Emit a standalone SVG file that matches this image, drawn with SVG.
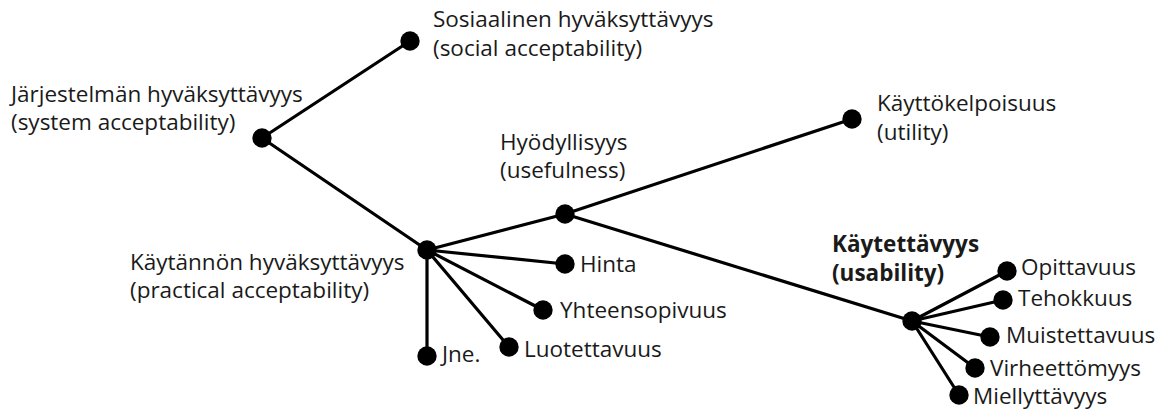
<svg xmlns="http://www.w3.org/2000/svg" width="1172" height="411" viewBox="0 0 1172 411">
<style>
text{font-family:"Open Sans","Noto Sans","Liberation Sans",sans-serif;font-size:22.5px;fill:#1a1a1a}
.b{font-weight:bold}
.e line{stroke:#000;stroke-width:3.2;stroke-linecap:round}
circle{fill:#000}
</style>
<rect width="1172" height="411" fill="#fff"/>
<g class="e" id="connectors">
<line x1="262" y1="138" x2="410" y2="41"/>
<line x1="262" y1="138" x2="427" y2="250"/>
<line x1="427" y1="250" x2="565" y2="214"/>
<line x1="565" y1="214" x2="852" y2="119"/>
<line x1="565" y1="214" x2="912" y2="321"/>
<line x1="427" y1="250" x2="565" y2="264"/>
<line x1="427" y1="250" x2="543" y2="310"/>
<line x1="427" y1="250" x2="509" y2="347"/>
<line x1="427" y1="250" x2="427" y2="356"/>
<line x1="912" y1="321" x2="1007" y2="271"/>
<line x1="912" y1="321" x2="1003" y2="300"/>
<line x1="912" y1="321" x2="990" y2="337"/>
<line x1="912" y1="321" x2="975" y2="368"/>
<line x1="912" y1="321" x2="959" y2="395"/>
</g>
<g id="social"><circle cx="410" cy="41" r="9.7"/><text x="433" y="27">Sosiaalinen hyväksyttävyys</text><text x="433" y="56">(social acceptability)</text></g>
<g id="system"><circle cx="262" cy="138" r="9.7"/><text x="11" y="102">Järjestelmän hyväksyttävyys</text><text x="11" y="130">(system acceptability)</text></g>
<g id="practical"><circle cx="427" cy="250" r="9.7"/><text x="130" y="270">Käytännön hyväksyttävyys</text><text x="130" y="298">(practical acceptability)</text></g>
<g id="usefulness"><circle cx="565" cy="214" r="9.7"/><text x="500" y="150">Hyödyllisyys</text><text x="500" y="178">(usefulness)</text></g>
<g id="utility"><circle cx="852" cy="119" r="9.7"/><text x="877" y="111">Käyttökelpoisuus</text><text x="877" y="140">(utility)</text></g>
<g id="usability"><circle cx="912" cy="321" r="9.7"/><text class="b" x="832" y="252">Käytettävyys</text><text class="b" x="832" y="281">(usability)</text></g>
<g id="hinta"><circle cx="565" cy="264" r="9.7"/><text x="580" y="272">Hinta</text></g>
<g id="yhteensopivuus"><circle cx="543" cy="310" r="9.7"/><text x="560" y="318">Yhteensopivuus</text></g>
<g id="luotettavuus"><circle cx="509" cy="347" r="9.7"/><text x="524" y="357">Luotettavuus</text></g>
<g id="jne"><circle cx="427" cy="356" r="9.7"/><text x="442" y="362">Jne.</text></g>
<g id="opittavuus"><circle cx="1007" cy="271" r="9.7"/><text x="1021" y="275">Opittavuus</text></g>
<g id="tehokkuus"><circle cx="1003" cy="300" r="9.7"/><text x="1018" y="306">Tehokkuus</text></g>
<g id="muistettavuus"><circle cx="990" cy="337" r="9.7"/><text x="1006" y="343">Muistettavuus</text></g>
<g id="virheettomyys"><circle cx="975" cy="368" r="9.7"/><text x="990" y="376">Virheettömyys</text></g>
<g id="miellyttavyys"><circle cx="959" cy="395" r="9.7"/><text x="973" y="404">Miellyttävyys</text></g>
</svg>
